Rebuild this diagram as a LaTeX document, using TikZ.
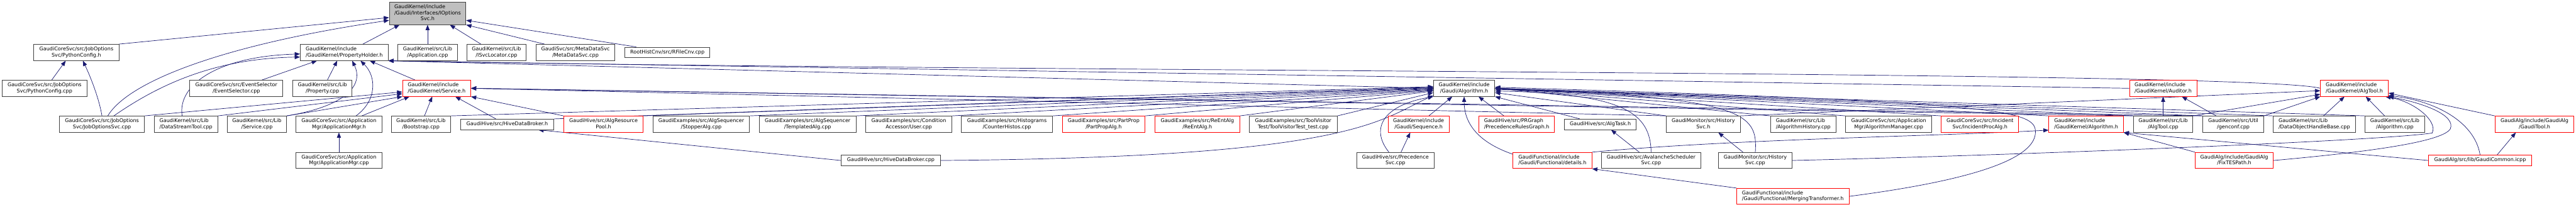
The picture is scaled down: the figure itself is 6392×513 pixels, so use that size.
\documentclass[tikz,border=0pt]{standalone}
\usepackage{fontspec}
\setmainfont{DejaVu Sans}
\usetikzlibrary{arrows.meta}
\definecolor{edgec}{HTML}{191970}
\definecolor{nodeblk}{HTML}{404040}
\definecolor{grayfill}{HTML}{BFBFBF}
\newcommand\fsz{\fontsize{12.6}{15}\selectfont}
\newcommand\onel[1]{\begin{tabular}{@{}c@{}}#1\end{tabular}}
\newcommand\twol[2]{\begin{tabular}{@{}c@{}}\multicolumn{1}{@{}l@{}}{#1}\\#2\end{tabular}}
\newcommand\threel[3]{\begin{tabular}{@{}c@{}}\multicolumn{1}{@{}l@{}}{#1}\\\multicolumn{1}{@{}l@{}}{#2}\\#3\end{tabular}}
\pgfdeclarelayer{bg}
\pgfsetlayers{bg,main}
\tikzset{
  nb/.style={draw=nodeblk, line width=1.3pt, fill=white, inner sep=0pt, minimum height=40pt, font=\fsz},
  nr/.style={nb, draw=red},
  e/.style={draw=edgec, line width=1.1pt, -{Triangle[length=13pt,width=10pt]}},
}
\begin{document}
\begin{tikzpicture}[x=1pt,y=-1pt]
\useasboundingbox (0,0) rectangle (6392,513);
% ---------- row 1
\node[nb,fill=grayfill,minimum width=190pt,minimum height=55pt] (iopt) at (1061,33.5) {\threel{GaudiKernel/include}{/Gaudi/Interfaces/IOptions}{Svc.h}};
% ---------- row 2
\node[nb,minimum width=211pt] (pych) at (189.5,130) {\twol{GaudiCoreSvc/src/JobOptions}{Svc/PythonConfig.h}};
\node[nb,minimum width=218pt] (ph) at (854,130) {\twol{GaudiKernel/include}{/GaudiKernel/PropertyHolder.h}};
\node[nb,minimum width=148pt] (appcpp) at (1061,130) {\twol{GaudiKernel/src/Lib}{/Application.cpp}};
\node[nb,minimum width=146pt] (isvc) at (1232,130) {\twol{GaudiKernel/src/Lib}{/ISvcLocator.cpp}};
\node[nb,minimum width=196pt] (meta) at (1428,130) {\twol{GaudiSvc/src/MetaDataSvc}{/MetaDataSvc.cpp}};
\node[nb,minimum width=210pt,minimum height=26pt] (rfile) at (1656,130) {\onel{RootHistCnv/src/RFileCnv.cpp}};
% ---------- row 3
\node[nb,minimum width=211pt] (pycc) at (110.5,219) {\twol{GaudiCoreSvc/src/JobOptions}{Svc/PythonConfig.cpp}};
\node[nb,minimum width=231pt] (evsel) at (586.5,219) {\twol{GaudiCoreSvc/src/EventSelector}{/EventSelector.cpp}};
\node[nb,minimum width=146pt] (prop) at (800,219) {\twol{GaudiKernel/src/Lib}{/Property.cpp}};
\node[nr,minimum width=169pt] (svch) at (1083.5,219) {\twol{GaudiKernel/include}{/GaudiKernel/Service.h}};
\node[nb,minimum width=152pt] (galg) at (3633,219) {\twol{GaudiKernel/include}{/Gaudi/Algorithm.h}};
\node[nr,minimum width=167pt] (aud) at (5367.5,219) {\twol{GaudiKernel/include}{/GaudiKernel/Auditor.h}};
\node[nr,minimum width=168pt] (atoolh) at (5842,219) {\twol{GaudiKernel/include}{/GaudiKernel/AlgTool.h}};
% ---------- row 4
\node[nb,minimum width=210pt] (jos) at (253,308) {\twol{GaudiCoreSvc/src/JobOptions}{Svc/JobOptionsSvc.cpp}};
\node[nb,minimum width=157pt] (dst) at (461.5,308) {\twol{GaudiKernel/src/Lib}{/DataStreamTool.cpp}};
\node[nb,minimum width=147pt] (svccpp) at (637.5,308) {\twol{GaudiKernel/src/Lib}{/Service.cpp}};
\node[nb,minimum width=214pt] (appmgrh) at (841,308) {\twol{GaudiCoreSvc/src/Application}{Mgr/ApplicationMgr.h}};
\node[nb,minimum width=147pt] (boot) at (1044.5,308) {\twol{GaudiKernel/src/Lib}{/Bootstrap.cpp}};
\node[nb,minimum width=231pt,minimum height=26pt] (hdbh) at (1258.5,308.5) {\onel{GaudiHive/src/HiveDataBroker.h}};
\node[nr,minimum width=197pt] (arp) at (1497.5,308) {\twol{GaudiHive/src/AlgResource}{Pool.h}};
\node[nb,minimum width=240pt] (stop) at (1740,308) {\twol{GaudiExamples/src/AlgSequencer}{/StopperAlg.cpp}};
\node[nb,minimum width=240pt] (templ) at (2004,308) {\twol{GaudiExamples/src/AlgSequencer}{/TemplatedAlg.cpp}};
\node[nb,minimum width=214pt] (user) at (2255,308) {\twol{GaudiExamples/src/Condition}{Accessor/User.cpp}};
\node[nb,minimum width=227pt] (chist) at (2498.5,308) {\twol{GaudiExamples/src/Histograms}{/CounterHistos.cpp}};
\node[nr,minimum width=205pt] (ppa) at (2738.5,308) {\twol{GaudiExamples/src/PartProp}{/PartPropAlg.h}};
\node[nr,minimum width=210pt] (reent) at (2971,308) {\twol{GaudiExamples/src/ReEntAlg}{/ReEntAlg.h}};
\node[nb,minimum width=218pt] (tvt) at (3209,308) {\twol{GaudiExamples/src/ToolVisitor}{Test/ToolVisitorTest\_test.cpp}};
\node[nr,minimum width=152pt] (seq) at (3520,308) {\twol{GaudiKernel/include}{/Gaudi/Sequence.h}};
\node[nr,minimum width=187pt] (prg) at (3763.5,308) {\twol{GaudiHive/src/PRGraph}{/PrecedenceRulesGraph.h}};
\node[nb,minimum width=178pt,minimum height=26pt] (atask) at (3971,308.5) {\onel{GaudiHive/src/AlgTask.h}};
\node[nb,minimum width=183pt] (hsvch) at (4226.5,308) {\twol{GaudiMonitor/src/History}{Svc.h}};
\node[nb,minimum width=163pt] (ahist) at (4474.5,308) {\twol{GaudiKernel/src/Lib}{/AlgorithmHistory.cpp}};
\node[nb,minimum width=213pt] (amgr) at (4686.5,308) {\twol{GaudiCoreSvc/src/Application}{Mgr/AlgorithmManager.cpp}};
\node[nr,minimum width=192pt] (ipa) at (4913,308) {\twol{GaudiCoreSvc/src/Incident}{Svc/IncidentProcAlg.h}};
\node[nr,minimum width=185pt] (gka) at (5176.5,308) {\twol{GaudiKernel/include}{/GaudiKernel/Algorithm.h}};
\node[nb,minimum width=147pt] (atcpp) at (5367.5,308) {\twol{GaudiKernel/src/Lib}{/AlgTool.cpp}};
\node[nb,minimum width=151pt] (genc) at (5541.5,308) {\twol{GaudiKernel/src/Util}{/genconf.cpp}};
\node[nb,minimum width=205pt] (dohb) at (5742.5,308) {\twol{GaudiKernel/src/Lib}{/DataObjectHandleBase.cpp}};
\node[nb,minimum width=147pt] (algcpp) at (5942.5,308) {\twol{GaudiKernel/src/Lib}{/Algorithm.cpp}};
\node[nr,minimum width=196pt] (gtool) at (6289,308) {\twol{GaudiAlg/include/GaudiAlg}{/GaudiTool.h}};
% ---------- row 5
\node[nb,minimum width=214pt] (amcpp) at (841,398) {\twol{GaudiCoreSvc/src/Application}{Mgr/ApplicationMgr.cpp}};
\node[nb,minimum width=247pt,minimum height=26pt] (hdbc) at (2210.5,398) {\onel{GaudiHive/src/HiveDataBroker.cpp}};
\node[nb,minimum width=191pt] (psvc) at (3462.5,398) {\twol{GaudiHive/src/Precedence}{Svc.cpp}};
\node[nr,minimum width=196pt] (det) at (3852,398) {\twol{GaudiFunctional/include}{/Gaudi/Functional/details.h}};
\node[nb,minimum width=248pt] (aval) at (4097,398) {\twol{GaudiHive/src/AvalancheScheduler}{Svc.cpp}};
\node[nb,minimum width=183pt] (hsvcc) at (4355.5,398) {\twol{GaudiMonitor/src/History}{Svc.cpp}};
\node[nr,minimum width=194pt] (fix) at (5544,398) {\twol{GaudiAlg/include/GaudiAlg}{/FixTESPath.h}};
\node[nr,minimum width=256pt,minimum height=26pt] (gcom) at (6154,398) {\onel{GaudiAlg/src/lib/GaudiCommon.icpp}};
% ---------- row 6
\node[nr,minimum width=279pt] (merg) at (4448.5,487) {\twol{GaudiFunctional/include}{/Gaudi/Functional/MergingTransformer.h}};
% ---------- edges
\begin{pgfonlayer}{bg}
\fill[white] (0,0) rectangle (6392,513);
% into IOptionsSvc.h
\draw[e] (pych.north east) -- (iopt.186);
\draw[e] (jos.55) .. controls (320,200) and (560,110) .. (iopt.190);
\draw[e] (ph.24) -- (iopt.202);
\draw[e] (appcpp.north) -- (iopt.south);
\draw[e] (isvc.152) -- (iopt.333);
\draw[e] (meta.165) -- (iopt.south east);
\draw[e] (rfile.170) -- (iopt.350);
% into PythonConfig.h
\draw[e] (pycc.49) -- (pych.218);
\draw[e] (jos.north) .. controls (245,240) and (222,185) .. (pych.308);
% into PropertyHolder.h
\draw[e] (jos.35) .. controls (380,220) and (520,145) .. (ph.186);
\draw[e] (dst.115) .. controls (440,210) and (540,140) .. (ph.182);
\draw[e] (evsel.18) -- (ph.197);
\draw[e] (prop.59) -- (ph.230);
\draw[e] (svccpp.north east) .. controls (850,265) and (905,215) .. (ph.314);
\draw[e] (appmgrh.26) .. controls (935,250) and (935,190) .. (ph.333);
\draw[e] (svch.159) -- (ph.342);
\draw[e] (galg.west) -- (ph.south east);
\draw[e] (aud.west) -- (ph.south east);
\draw[e] (atoolh.west) .. controls (5600,175) and (2500,180) .. (ph.south east);
% into Service.h
\draw[e] (jos.north east) -- (svch.186);
\draw[e] (dst.north east) -- (svch.189);
\draw[e] (svccpp.north east) -- (svch.south west);
\draw[e] (appmgrh.20) -- (svch.197);
\draw[e] (boot.67) -- (svch.242);
\draw[e] (hdbh.154) -- (svch.336);
\draw[e] (arp.north west) -- (svch.south east);
\draw[e] (hsvch.north west) -- (svch.east);
\draw[e] (atcpp.north west) -- (svch.east);
\draw[e] (genc.north west) -- (svch.east);
% into Gaudi/Algorithm.h
\draw[e] (boot.north east) -- (galg.177);
\draw[e] (hdbh.north east) -- (galg.178);
\draw[e] (arp.north east) -- (galg.179);
\draw[e] (stop.north east) -- (galg.180);
\draw[e] (templ.north east) -- (galg.181);
\draw[e] (user.north east) -- (galg.182);
\draw[e] (chist.north east) -- (galg.183);
\draw[e] (ppa.north east) -- (galg.184);
\draw[e] (reent.north east) -- (galg.185);
\draw[e] (tvt.north east) -- (galg.188);
\draw[e] (hdbc.east) .. controls (3350,390) and (3420,300) .. (galg.193);
\draw[e] (psvc.128) .. controls (3400,320) and (3430,262) .. (galg.south west);
\draw[e] (seq.39) -- (galg.215);
\draw[e] (det.171) .. controls (3660,350) and (3633,300) .. (galg.south);
\draw[e] (prg.147) -- (galg.330);
\draw[e] (atask.165) -- (galg.south east);
\draw[e] (hsvch.north west) -- (galg.352);
\draw[e] (aval.north) .. controls (4095,280) and (4030,232) .. (galg.355);
\draw[e] (hsvcc.north) .. controls (4362,280) and (4330,240) .. (galg.358);
\draw[e] (ahist.north west) -- (galg.east);
\draw[e] (amgr.north west) -- (galg.east);
\draw[e] (ipa.north west) -- (galg.east);
\draw[e] (gka.north west) -- (galg.east);
\draw[e] (atcpp.north west) -- (galg.east);
\draw[e] (genc.north west) -- (galg.east);
\draw[e] (dohb.north west) -- (galg.east);
\draw[e] (algcpp.north west) -- (galg.east);
\draw[e] (merg.east) .. controls (4950,440) and (5060,380) .. (5050,320) .. controls (5040,270) and (4900,252) .. (galg.2);
% into Auditor.h
\draw[e] (atcpp.north) -- (aud.south);
\draw[e] (genc.154) -- (aud.336);
% into AlgTool.h
\draw[e] (hsvch.north east) -- (atoolh.184);
\draw[e] (atcpp.north east) -- (atoolh.190);
\draw[e] (genc.north east) -- (atoolh.south west);
\draw[e] (dohb.42) -- (atoolh.220);
\draw[e] (algcpp.141) -- (atoolh.324);
\draw[e] (gtool.north west) -- (atoolh.352);
\draw[e] (gcom.north) .. controls (6140,300) and (6040,250) .. (atoolh.348);
\draw[e] (fix.east) .. controls (5900,375) and (6060,350) .. (6080,320) .. controls (6095,285) and (6010,255) .. (atoolh.south east);
\draw[e] (hsvcc.east) .. controls (5000,385) and (5900,350) .. (6035,330) .. controls (6050,300) and (5990,252) .. (atoolh.345);
% into GaudiKernel/Algorithm.h
\draw[e] (det.north east) .. controls (4300,345) and (4800,338) .. (gka.189);
\draw[e] (fix.north west) -- (gka.south east);
\draw[e] (gcom.west) -- (gka.south east);
% others
\draw[e] (gcom.18) -- (gtool.204);
\draw[e] (merg.north west) -- (det.south east);
\draw[e] (hdbc.west) -- (hdbh.350);
\draw[e] (psvc.56) -- (seq.225);
\draw[e] (aval.145) -- (atask.333);
\draw[e] (hsvcc.146) -- (hsvch.331);
\draw[e] (amcpp.north) -- (appmgrh.south);
\end{pgfonlayer}
\end{tikzpicture}
\end{document}
